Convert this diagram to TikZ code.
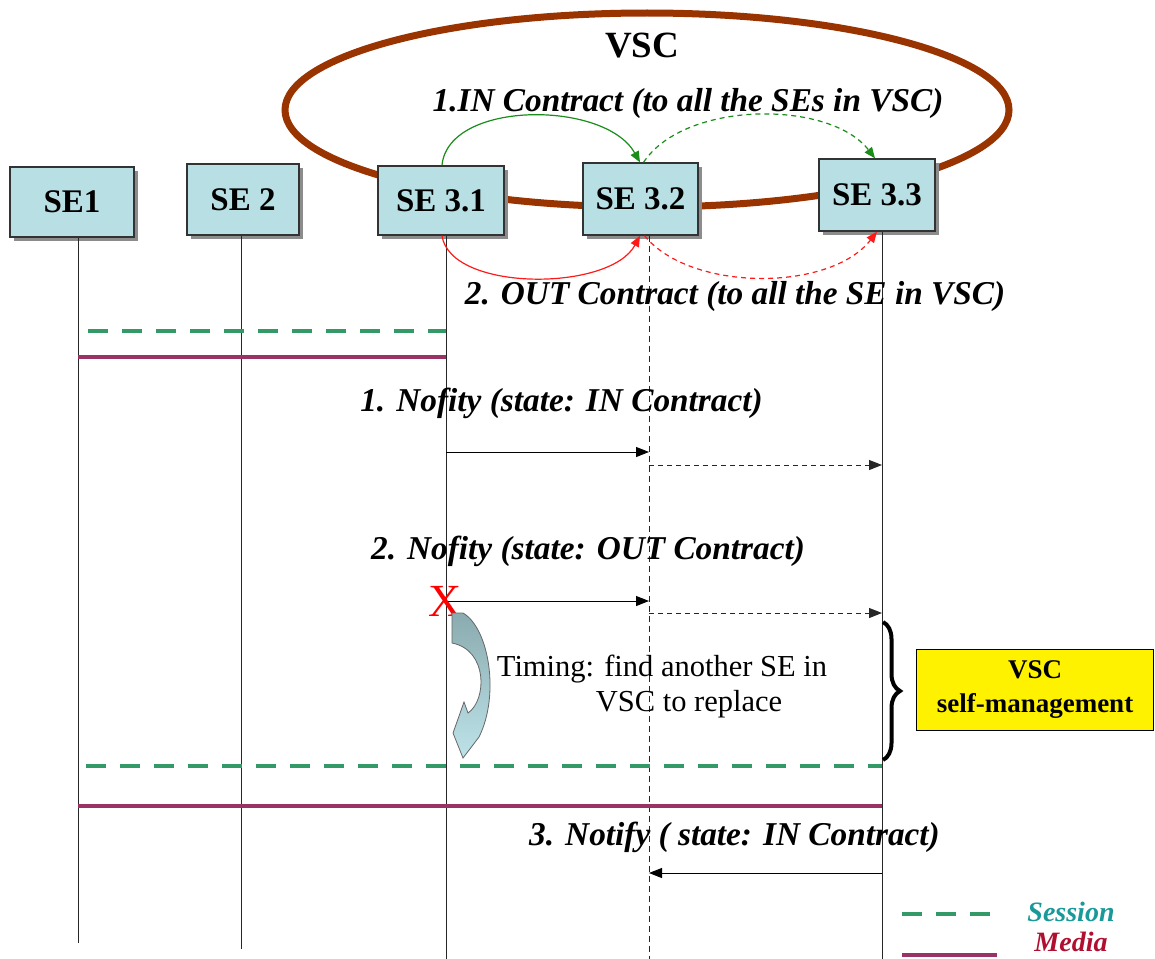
\documentclass[tikz,border=0pt]{standalone}
\usepackage{fontspec}
\setmainfont{Liberation Serif}
\usetikzlibrary{arrows.meta,shadows,decorations.pathreplacing}
\definecolor{boxfill}{HTML}{B8E0E4}
\definecolor{vscbrown}{HTML}{993300}
\definecolor{sessgreen}{HTML}{339966}
\definecolor{mediapurple}{HTML}{993366}
\definecolor{arcgreen}{HTML}{1A8C1A}
\definecolor{arcred}{HTML}{FF1A1A}
\definecolor{legteal}{HTML}{1A9999}
\definecolor{legred}{HTML}{B01030}
\definecolor{arrtop}{HTML}{8AABB0}
\definecolor{arrbot}{HTML}{BDE3E8}
\begin{document}
\begin{tikzpicture}[x=1pt,y=-1pt,
  sebox/.style={draw=black!80, line width=1.3pt, fill=boxfill, inner sep=0pt,
    font=\fontsize{33}{36}\selectfont\bfseries,
    drop shadow={shadow xshift=4pt, shadow yshift=-4pt, fill=black!45, opacity=1}},
  lifeline/.style={line width=1pt, black!85},
  lbl/.style={font=\fontsize{33.3}{36}\selectfont\bfseries\itshape, inner sep=0pt},
  msg/.style={line width=1pt, -{Triangle[length=13pt,width=10pt]}},
  msgdash/.style={msg, dash pattern=on 5pt off 4pt, black!85},
  session/.style={sessgreen, line width=4.5pt, dash pattern=on 20pt off 14pt},
  media/.style={mediapurple, line width=4pt},
  arc/.style={line width=1.2pt, -{Triangle[length=11pt,width=9pt]}},
  plain/.style={font=\fontsize{30.5}{33}\selectfont, inner sep=0pt}
]
\useasboundingbox (0,0) rectangle (1155,958);

% VSC ellipse
\draw[vscbrown, line width=7pt] (647,110) ellipse [x radius=362, y radius=97];
\node[font=\fontsize{37}{40}\selectfont\bfseries, inner sep=0pt] (vsc) at (642,46) {VSC};

% SE boxes
\node[sebox, minimum width=124pt, minimum height=70pt] (se1) at (72,202) {SE1};
\node[sebox, minimum width=112pt, minimum height=71pt] (se2) at (243,199.5) {SE 2};
\node[sebox, minimum width=126pt, minimum height=69pt] (se31) at (441,200.5) {SE 3.1};
\node[sebox, minimum width=115pt, minimum height=72pt] (se32) at (640.5,199) {SE 3.2};
\node[sebox, minimum width=116pt, minimum height=72pt] (se33) at (877,195) {SE 3.3};

% lifelines
\draw[lifeline] ([xshift=6pt]se1.south) -- ++(0,705);
\draw[lifeline] ([xshift=-2pt]se2.south) -- ++(0,713);
\draw[lifeline] ([xshift=5pt]se31.south) -- ++(0,723);
\draw[lifeline, dash pattern=on 6pt off 4pt] ([xshift=8.5pt]se32.south) -- ++(0,723);
\draw[lifeline] ([xshift=5pt]se33.south) -- ++(0,727);

% contract arcs
\node[lbl] (incon) at (688,103) {1.IN Contract (to all the SEs in VSC)};
\draw[arc, arcgreen] ([xshift=1pt]se31.north) .. controls (448,100) and (605,100) .. ([xshift=-0.5pt]se32.north);
\draw[arc, arcgreen, dash pattern=on 5pt off 4pt] ([xshift=3pt]se32.north) .. controls (685,100) and (830,100) .. ([xshift=-2pt]se33.north);
\draw[arc, arcred] ([xshift=1pt]se31.south) .. controls (450,292) and (610,292) .. ([xshift=-0.5pt]se32.south);
\draw[arc, arcred, dash pattern=on 5pt off 4pt] ([xshift=4pt]se32.south) .. controls (690,292) and (830,292) .. (se33.south);
\node[lbl] (outcon) at (735,296) {2. OUT Contract (to all the SE in VSC)};

% session / media 1
\coordinate (s1a) at (88,331); \coordinate (s1b) at (446,331);
\coordinate (md1a) at (78,357); \coordinate (md1b) at (446,357);
\draw[session] (s1a) -- (s1b);
\draw[media] (md1a) -- (md1b);

% notify 1
\node[lbl] (n1) at (561.5,403) {1. Nofity (state: IN Contract)};
\coordinate (m1a) at (446,452); \coordinate (m1b) at (649,452);
\coordinate (m1c) at (649,465); \coordinate (m1d) at (882,465);
\draw[msg] (m1a) -- (m1b);
\draw[msgdash] (m1c) -- (m1d);

% notify 2
\node[lbl] (n2) at (588,551) {2. Nofity (state: OUT Contract)};
\coordinate (m2a) at (446,601); \coordinate (m2b) at (649,601);
\coordinate (m2c) at (649,613); \coordinate (m2d) at (882,613);
\draw[msg] (m2a) -- (m2b);
\draw[msgdash] (m2c) -- (m2d);
\node[text=red, font=\fontsize{46}{46}\selectfont, inner sep=0pt] (xmark) at (445,601) {X};

% curved arrow
\shadedraw[top color=arrtop, bottom color=arrbot, draw=black!60, line width=0.8pt]
  (452,613) -- (463,613) .. controls (489,628) and (500,695) .. (479,737)
  -- (463,758) -- (453,733) -- (464,702) -- (468,713)
  .. controls (487,700) and (488,650) .. (452,643) -- cycle;

\node[plain] (tim1) at (662,669) {Timing: find another SE in};
\node[plain] (tim2) at (689,704) {VSC to replace};

% brace + VSC box
\coordinate (b1) at (883,622); \coordinate (b2) at (883,760);
\draw[decorate, decoration={brace, amplitude=17pt}, line width=4pt] (b1) -- (b2);
\node[draw=black, line width=1pt, fill=yellow, minimum width=237pt, minimum height=81pt,
  align=center, font=\fontsize{27}{34}\selectfont\bfseries, inner sep=0pt] (selfm) at (1035,689.5) {VSC\\self-management};

% session / media 2
\coordinate (s2a) at (86,766); \coordinate (s2b) at (882,766);
\coordinate (md2a) at (78,806); \coordinate (md2b) at (882,806);
\draw[session] (s2a) -- (s2b);
\draw[media] (md2a) -- (md2b);

% notify 3
\node[lbl] (n3) at (734.5,837) {3. Notify ( state: IN Contract)};
\coordinate (m3a) at (882,873); \coordinate (m3b) at (649,873);
\draw[msg] (m3a) -- (m3b);

% legend
\coordinate (lg1) at (902,914); \coordinate (lg2) at (990,914);
\coordinate (lg3) at (902,955); \coordinate (lg4) at (997,955);
\draw[session] (lg1) -- (lg2);
\draw[media] (lg3) -- (lg4);
\node[text=legteal, font=\fontsize{28}{30}\selectfont\bfseries\itshape, inner sep=0pt] (sesslbl) at (1071,912) {Session};
\node[text=legred, font=\fontsize{28}{30}\selectfont\bfseries\itshape, inner sep=0pt] (medlbl) at (1071,942) {Media};
\end{tikzpicture}
\end{document}
